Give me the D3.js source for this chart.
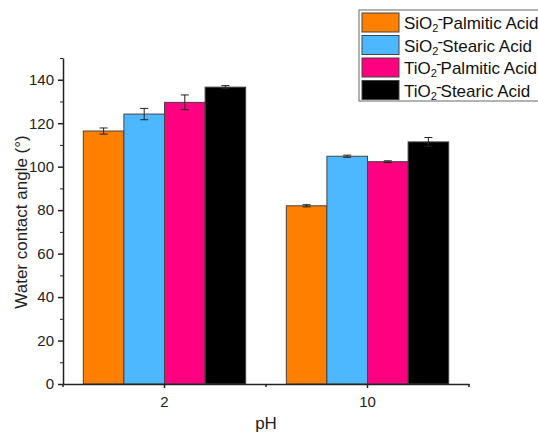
<!DOCTYPE html>
<html>
<head>
<meta charset="utf-8">
<script src="https://cdn.jsdelivr.net/npm/d3@7"></script>
<style>
  body { margin: 0; background: #fff; }
  svg { display: block; font-family: "Liberation Sans", Arial, sans-serif; }
</style>
</head>
<body>
<div id="chart"></div>
<script>
// Data
const categories = ["2", "10"];
const series = ["SiO2-Palmitic Acid", "SiO2-Stearic Acid", "TiO2-Palmitic Acid", "TiO2-Stearic Acid"];
const legendParts = [["SiO", "Palmitic Acid"], ["SiO", "Stearic Acid"], ["TiO", "Palmitic Acid"], ["TiO", "Stearic Acid"]];
const colors = ["#ff8000", "#4db8ff", "#ff0080", "#000000"];
const meanValues = [
  [116.4, 82.0],
  [124.2, 104.8],
  [129.6, 102.3],
  [136.6, 111.4]
];
const errValues = [
  [1.4, 0.5],
  [2.6, 0.5],
  [3.4, 0.4],
  [0.7, 2.0]
];
const yTicks = [0, 20, 40, 60, 80, 100, 120, 140];

const width = 538;
const height = 433;
const margin = { top: 58, right: 69, bottom: 49, left: 63 };

const svg = d3.select("#chart")
  .append("svg")
  .attr("width", width)
  .attr("height", height);

// Scales
const xScale = d3.scaleBand()
  .domain(categories)
  .range([margin.left, width - margin.right])
  .paddingInner(0.2)
  .paddingOuter(0.1);

const xInner = d3.scaleBand()
  .domain(series)
  .range([0, xScale.bandwidth()]);

const yScale = d3.scaleLinear()
  .domain([0, 150])
  .range([height - margin.bottom, margin.top]);

// Flatten for drawing
const bars = [];
series.forEach((s, i) => {
  categories.forEach((c, j) => {
    bars.push({ series: s, cat: c, value: meanValues[i][j], err: errValues[i][j], color: colors[i] });
  });
});

// Bars
svg.append("g")
  .selectAll("rect")
  .data(bars)
  .join("rect")
  .attr("x", d => xScale(d.cat) + xInner(d.series))
  .attr("y", d => yScale(d.value))
  .attr("width", xInner.bandwidth())
  .attr("height", d => yScale(0) - yScale(d.value))
  .attr("fill", d => d.color)
  .attr("stroke", "#444")
  .attr("stroke-width", 1);

// Error bars
const eb = svg.append("g").attr("stroke", "#333").attr("stroke-width", 1);
bars.forEach(d => {
  const cx = xScale(d.cat) + xInner(d.series) + xInner.bandwidth() / 2;
  const y1 = yScale(d.value + d.err);
  const y2 = yScale(d.value - d.err);
  eb.append("line").attr("x1", cx).attr("x2", cx).attr("y1", y1).attr("y2", y2);
  eb.append("line").attr("x1", cx - 4).attr("x2", cx + 4).attr("y1", y1).attr("y2", y1);
  eb.append("line").attr("x1", cx - 4).attr("x2", cx + 4).attr("y1", y2).attr("y2", y2);
});

// Y axis
const yAxis = svg.append("g")
  .attr("transform", `translate(${margin.left},0)`)
  .call(d3.axisLeft(yScale).tickValues(yTicks).tickSize(5).tickSizeOuter(0).tickPadding(4));

svg.append("g")
  .attr("transform", `translate(${margin.left},0)`)
  .call(d3.axisLeft(yScale).tickValues(d3.range(10, 160, 20)).tickSize(3).tickFormat(""))
  .call(g => g.select(".domain").remove());

// X axis
const xAxis = svg.append("g")
  .attr("transform", `translate(0,${yScale(0)})`)
  .call(d3.axisBottom(xScale).tickSize(4).tickSizeOuter(0).tickPadding(8));

svg.append("g")
  .attr("transform", `translate(0,${yScale(0)})`)
  .selectAll("line")
  .data([margin.left, (xScale("2") + xScale.bandwidth() + xScale("10")) / 2, width - margin.right])
  .join("line")
  .attr("x1", d => d).attr("x2", d => d)
  .attr("y1", 0).attr("y2", 3)
  .attr("stroke", "#222").attr("stroke-width", 1.5);

[yAxis, xAxis].forEach(g => {
  g.select(".domain").attr("stroke", "#222").attr("stroke-width", 1.5);
  g.selectAll(".tick line").attr("stroke", "#222").attr("stroke-width", 1.5);
  g.selectAll(".tick text").attr("font-size", 15).attr("fill", "#222")
    .attr("font-family", "Liberation Sans, Arial, sans-serif");
});
svg.selectAll("g line").attr("stroke", "#222");

// Axis titles
svg.append("text")
  .attr("transform", `translate(27,222) rotate(-90)`)
  .attr("text-anchor", "middle")
  .attr("font-size", 17)
  .attr("fill", "#222")
  .text("Water contact angle (°)");

svg.append("text")
  .attr("x", (margin.left + width - margin.right) / 2)
  .attr("y", 429)
  .attr("text-anchor", "middle")
  .attr("font-size", 17)
  .attr("fill", "#222")
  .text("pH");

// Legend
const legend = svg.append("g").attr("transform", "translate(359,10)");
legend.append("rect")
  .attr("x", 0).attr("y", 0)
  .attr("width", 200).attr("height", 91)
  .attr("fill", "#fff")
  .attr("stroke", "#666")
  .attr("stroke-width", 1);

legendParts.forEach((p, i) => {
  const row = legend.append("g").attr("transform", `translate(3,${3 + i * 22.5})`);
  row.append("rect")
    .attr("width", 37).attr("height", 19)
    .attr("fill", colors[i])
    .attr("stroke", "#444");
  const t = row.append("text")
    .attr("x", 42).attr("y", 16)
    .attr("font-size", 17)
    .attr("fill", "#111");
  t.append("tspan").text(p[0]);
  t.append("tspan").attr("font-size", 11).attr("dy", 3).text("2");
  t.append("tspan").attr("dy", -8).attr("dx", -1).text("-");
  t.append("tspan").attr("dy", 5).attr("dx", -1).text(p[1]);
});
</script>
</body>
</html>
